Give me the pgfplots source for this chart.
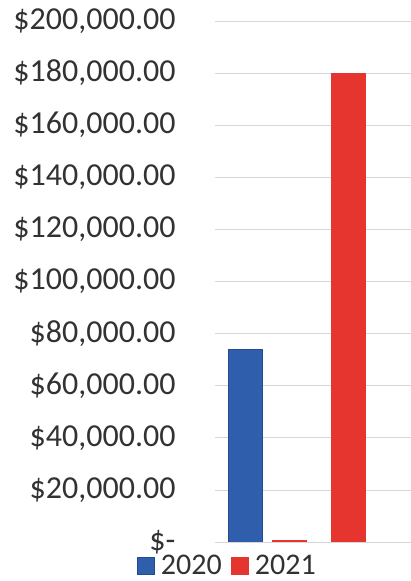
\documentclass[border=0pt]{standalone}
\usepackage{pgfplots}
\pgfplotsset{compat=1.18}
\usepackage{fontspec}
\setmainfont{Carlito}
\definecolor{bblue}{RGB}{46,94,172}
\definecolor{bred}{RGB}{230,52,46}
\definecolor{gridgray}{RGB}{215,215,215}
\definecolor{txt}{RGB}{50,50,50}
\begin{document}
\begin{tikzpicture}
\begin{axis}[
  at={(0,0)}, anchor=origin,
  scale only axis,
  width=196bp, height=521bp,
  xmin=0, xmax=196,
  ymin=0, ymax=200000,
  scaled y ticks=false,
  axis line style={draw=none},
  xtick=\empty,
  ytick={0,20000,40000,60000,80000,100000,120000,140000,160000,180000,200000},
  yticklabels={{\$-\hspace{15bp}},{\$20,000.00},{\$40,000.00},{\$60,000.00},{\$80,000.00},{\$100,000.00},{\$120,000.00},{\$140,000.00},{\$160,000.00},{\$180,000.00},{\$200,000.00}},
  ymajorgrids,
  grid style={gridgray, line width=0.8pt},
  major tick length=0pt,
  yticklabel style={font=\fontsize{32bp}{33bp}\selectfont, text=txt, xshift=-36bp},
  ybar, bar width=34,
  legend columns=2,
  legend style={at={(axis description cs:0.06,-0.045)}, anchor=center, draw=none, fill=none,
    inner sep=0pt,
    font=\fontsize{30bp}{30bp}\selectfont, text=txt,
    nodes={inner sep=0.5bp},
    /tikz/every even column/.append style={column sep=9bp}},
  legend image code/.code={\fill[#1] (0bp,-8.5bp) rectangle (17bp,8.5bp);
    \node[inner sep=0pt, minimum size=0pt] at (23bp,0bp) {};},
]
\addplot[fill=bblue, draw=bblue!80!black, bar shift=0pt] coordinates {(30,74000)};
\addplot[fill=bred, draw=bred, bar shift=0pt] coordinates {(74.5,700) (133.5,180000)};
\legend{2020,2021}
\end{axis}
\pgfresetboundingbox
\path (-215bp,-39bp) rectangle (196bp,542bp);
\end{tikzpicture}
\end{document}
